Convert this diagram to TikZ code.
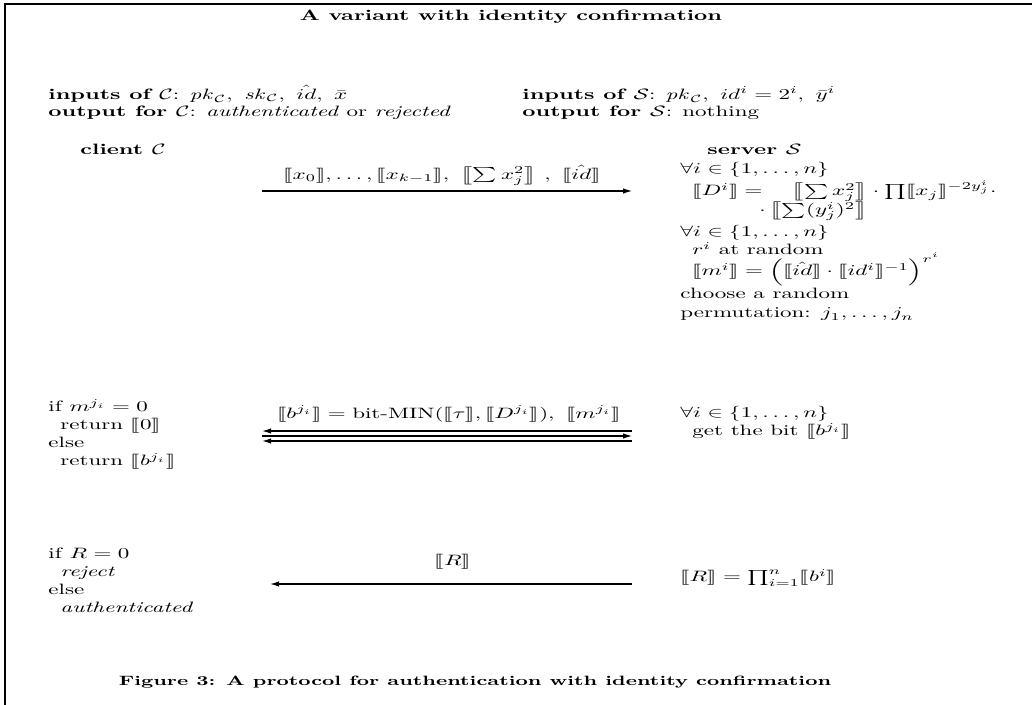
\documentclass[tikz,border=0pt]{standalone}
\usetikzlibrary{arrows.meta}
\usepackage{amsmath}
\usepackage{stmaryrd}

\begin{document}
\begin{tikzpicture}[x=0.4349pt,y=-0.6667pt,xscale=1.533,transform shape,>={Latex[length=6pt,width=3.6pt]}]
\tikzset{
  ln/.style={anchor=base west,inner sep=0pt},
  lbl/.style={inner sep=0pt},
  msg/.style={line width=0.8pt},
}
\useasboundingbox (0,0) rectangle (1032,705);
% ---------- frame, title, inputs ----------
\draw[line width=1.2pt] (5,705) -- (5,4) -- (1032,4);
\node[lbl,font=\bfseries] (title) at (511,17) {A variant with identity confirmation};
\node[ln] (inC) at (48,99) {\textbf{inputs of $\mathcal{C}$}: $\mathit{pk}_{\mathcal{C}},\ \mathit{sk}_{\mathcal{C}},\ \hat{id},\ \bar{x}$};
\node[ln] (outC) at (48,116) {\textbf{output for $\mathcal{C}$}: \textit{authenticated} or \textit{rejected}};
\node[ln] (inS) at (522,99) {\textbf{inputs of $\mathcal{S}$}: $\mathit{pk}_{\mathcal{C}},\ id^i=2^i,\ \bar{y}^i$};
\node[ln] (outS) at (522,116) {\textbf{output for $\mathcal{S}$}: nothing};
\node[ln,font=\bfseries] (client) at (80,154) {client $\mathcal{C}$};
\node[ln,font=\bfseries] (server) at (707,154) {server $\mathcal{S}$};
% ---------- first message, server side ----------
\node[ln] (sA1) at (680,174) {$\forall i\in\{1,\ldots,n\}$};
\node[ln] (sA2) at (692,196) {$\llbracket D^i\rrbracket=\quad\left\llbracket\sum x_j^2\right\rrbracket\cdot\prod\llbracket x_j\rrbracket^{-2y_j^i}\cdot$};
\node[ln] (sA3) at (759,215) {$\cdot\left\llbracket\sum(y_j^i)^2\right\rrbracket$};
\node[ln] (sA4) at (680,237) {$\forall i\in\{1,\ldots,n\}$};
\node[ln] (sA5) at (692,255) {$r^i$ at random};
\node[ln] (sA6) at (692,276) {$\llbracket m^i\rrbracket=\left(\llbracket\hat{id}\rrbracket\cdot\llbracket id^i\rrbracket^{-1}\right)^{r^i}$};
\node[ln] (sA7) at (680,299) {choose a random};
\node[ln] (sA8) at (680,318) {permutation: $j_1,\ldots,j_n$};
\node[lbl] (m1) at (442,175) {$\llbracket x_0\rrbracket,\ldots,\llbracket x_{k-1}\rrbracket,\ \left\llbracket\sum x_j^2\right\rrbracket\,,\ \llbracket\hat{id}\rrbracket$};
\coordinate (m1w) at (262,191);
\coordinate (m1e) at (632,191);
\draw[msg,->] (m1w) -- (m1e);
% ---------- second message (both ways) ----------
\node[ln] (cB1) at (48,412) {if $m^{j_i}=0$};
\node[ln] (cB2) at (60,430) {return $\llbracket 0\rrbracket$};
\node[ln] (cB3) at (48,448) {else};
\node[ln] (cB4) at (60,466) {return $\llbracket b^{j_i}\rrbracket$};
\node[lbl] (m2) at (449,414) {$\llbracket b^{j_i}\rrbracket=\text{bit-MIN}(\llbracket\tau\rrbracket,\llbracket D^{j_i}\rrbracket),\ \llbracket m^{j_i}\rrbracket$};
\coordinate (m2w1) at (262,431);
\coordinate (m2e1) at (632,431);
\coordinate (m2w2) at (262,436);
\coordinate (m2e2) at (632,436);
\coordinate (m2w3) at (262,441);
\coordinate (m2e3) at (632,441);
\draw[msg,<-] (m2w1) -- (m2e1);
\draw[msg,->] (m2w2) -- (m2e2);
\draw[msg,<-] (m2w3) -- (m2e3);
\node[ln] (sB1) at (680,418) {$\forall i\in\{1,\ldots,n\}$};
\node[ln] (sB2) at (692,436) {get the bit $\llbracket b^{j_i}\rrbracket$};
% ---------- result ----------
\node[ln] (cC1) at (48,559) {if $R=0$};
\node[ln] (cC2) at (60,577) {\textit{reject}};
\node[ln] (cC3) at (48,595) {else};
\node[ln] (cC4) at (60,613) {\textit{authenticated}};
\node[lbl] (m3) at (453,562) {$\llbracket R\rrbracket$};
\node[ln] (sC1) at (680,582) {$\llbracket R\rrbracket=\prod_{i=1}^{n}\llbracket b^i\rrbracket$};
\coordinate (m3e) at (632,584);
\coordinate (m3w) at (270,584);
\draw[msg,->] (m3e) -- (m3w);
\node[lbl,font=\small\bfseries] (caption) at (475,682) {Figure 3: A protocol for authentication with identity confirmation};
\end{tikzpicture}
\end{document}
